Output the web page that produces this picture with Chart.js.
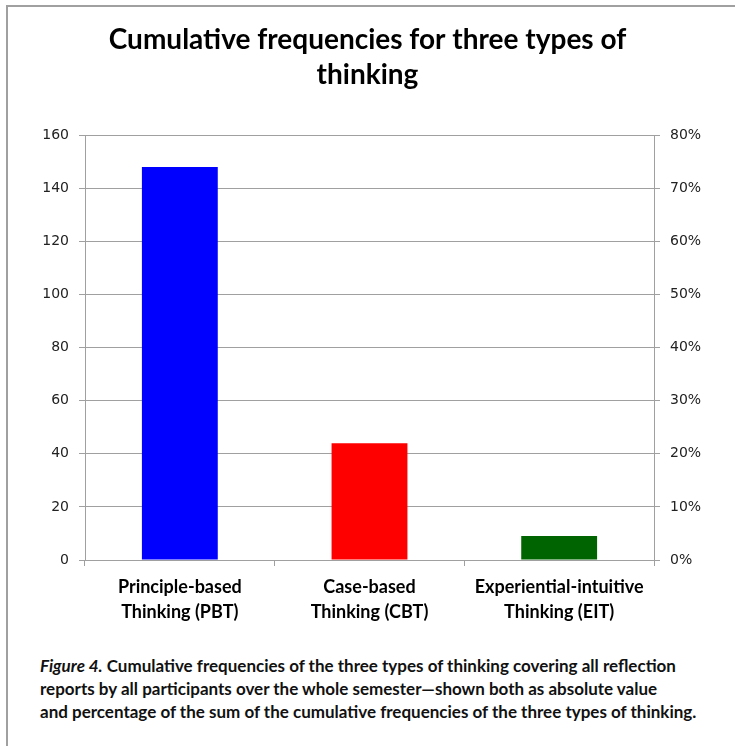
<!DOCTYPE html>
<html>
<head>
<meta charset="utf-8">
<script src="https://cdn.jsdelivr.net/npm/chart.js@4"></script>
<style>
  html, body { margin: 0; padding: 0; background: #fff; }
  #frame {
    position: absolute; left: 6px; top: 5px; width: 740px; height: 760px;
    border-top: 2px solid #a0a0a0; border-left: 2px solid #a0a0a0;
  }
  #wrap { position: absolute; left: 0; top: 0; width: 735px; height: 640px; }
  #caption {
    position: absolute; left: 40px; top: 654px; width: 700px;
    font-family: Lato, sans-serif; font-weight: 700; font-size: 17px;
    line-height: 23px; color: #111; white-space: nowrap;
  }
  #caption i { font-style: italic; }
</style>
</head>
<body>
<div id="frame"></div>
<div id="wrap"><canvas id="chart"></canvas></div>
<div id="caption"><i>Figure 4.</i> Cumulative frequencies of the three types of thinking covering all reflection<br>reports by all participants over the whole semester—shown both as absolute value<br>and percentage of the sum of the cumulative frequencies of the three types of thinking.</div>
<script>
// values
const categories = [
  ['Principle-based', 'Thinking (PBT)'],
  ['Case-based', 'Thinking (CBT)'],
  ['Experiential-intuitive', 'Thinking (EIT)'],
];
const frequencies = [148, 44, 9];
const barColors = ['#0000ff', '#ff0000', '#006400'];
const countTicks = [0, 20, 40, 60, 80, 100, 120, 140, 160];
const percentTicks = ['0%', '10%', '20%', '30%', '40%', '50%', '60%', '70%', '80%'];

const gridColor = '#a0a0a0';
const tickFont = { family: 'DejaVu Sans', size: 14 };

new Chart(document.getElementById('chart'), {
    type: 'bar',
    data: {
        labels: categories,
        datasets: [
            {
                data: frequencies,
                backgroundColor: barColors,
                barPercentage: 0.4,
                categoryPercentage: 1,
                yAxisID: 'y',
            },
        ],
    },
    options: {
        responsive: true,
        maintainAspectRatio: false,
        animation: false,
        layout: { padding: 0 },
        plugins: {
            legend: { display: false },
            tooltip: { enabled: false },
            title: {
                display: true,
                text: ['Cumulative frequencies for three types of', 'thinking'],
                color: '#000',
                font: { family: 'Lato', weight: 'bold', size: 28, lineHeight: 1.25 },
                padding: { top: 22, bottom: 43 },
            },
        },
        scales: {
            x: {
                grid: { offset: true, drawOnChartArea: false, tickLength: 6, color: gridColor },
                border: { color: gridColor },
                ticks: {
                    color: '#000',
                    font: { family: 'Lato', weight: 'bold', size: 18, lineHeight: 1.42 },
                    padding: 8,
                    maxRotation: 0,
                    autoSkip: false,
                },
                afterFit(scale) { scale.height = 80; },
            },
            y: {
                position: 'left',
                min: 0,
                max: countTicks[countTicks.length - 1],
                afterBuildTicks(scale) { scale.ticks = countTicks.map(v => ({ value: v })); },
                grid: { color: gridColor, tickLength: 6 },
                border: { color: gridColor },
                ticks: { color: '#222', font: tickFont, padding: 10 },
                afterFit(scale) { scale.width = 85; },
            },
            y1: {
                position: 'right',
                min: 0,
                max: countTicks[countTicks.length - 1],
                afterBuildTicks(scale) { scale.ticks = countTicks.map(v => ({ value: v })); },
                grid: { drawOnChartArea: false, color: gridColor, tickLength: 6 },
                border: { color: gridColor },
                ticks: {
                    color: '#222',
                    font: tickFont,
                    padding: 10,
                    callback: (v, i) => percentTicks[i],
                },
                afterFit(scale) { scale.width = 81; },
            },
        },
    },
});
</script>
</body>
</html>
